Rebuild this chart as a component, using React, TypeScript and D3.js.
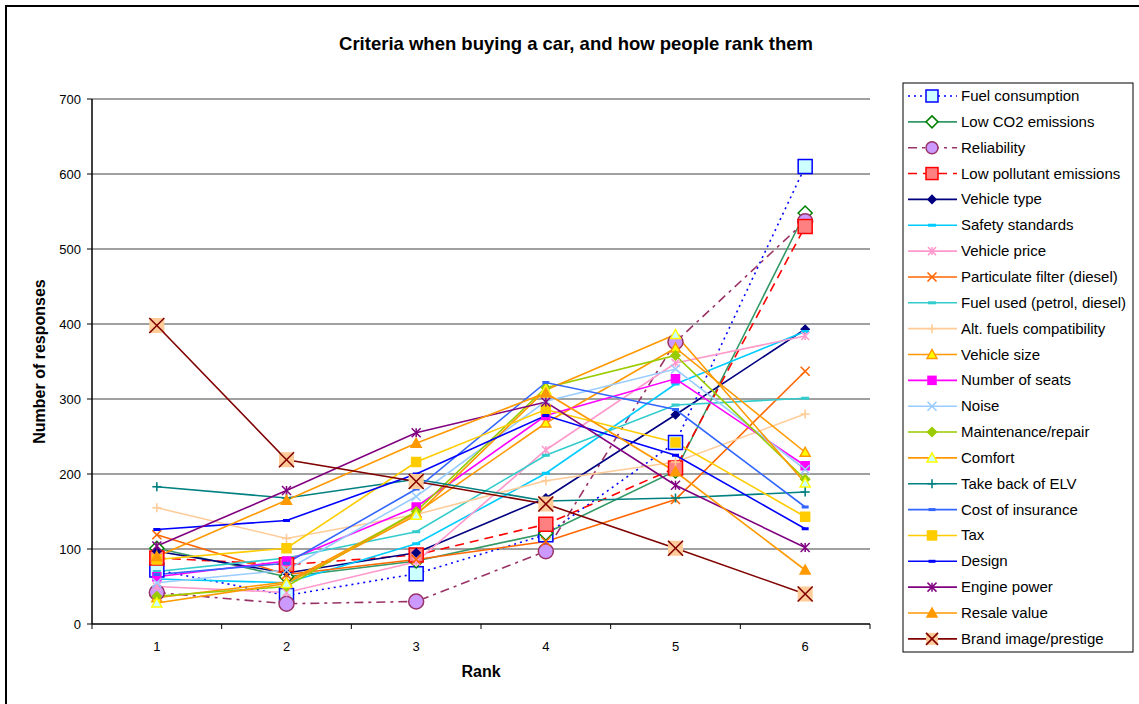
import React from "react";
import * as d3 from "d3";

const ranks = ["1", "2", "3", "4", "5", "6"];
const yTicks = [0, 100, 200, 300, 400, 500, 600, 700];

const fuelConsumption = [72, 38, 67, 119, 242, 610];
const lowCO2 = [101, 63, 84, 121, 204, 548];
const reliability = [42, 27, 30, 97, 376, 537];
const lowPollutant = [88, 79, 92, 133, 208, 530];
const vehicleType = [97, 68, 95, 168, 279, 393];
const safetyStandards = [60, 55, 107, 201, 320, 390];
const vehiclePrice = [50, 42, 83, 232, 348, 384];
const particulateFilter = [119, 66, 86, 110, 166, 337];
const fuelUsed = [70, 88, 123, 225, 292, 301];
const altFuels = [155, 114, 146, 191, 216, 280];
const vehicleSize = [35, 56, 148, 268, 368, 229];
const numberOfSeats = [63, 84, 156, 278, 327, 211];
const noise = [55, 72, 170, 297, 340, 206];
const maintenance = [37, 50, 150, 315, 358, 193];
const comfort = [28, 54, 145, 312, 386, 188];
const takeBackELV = [183, 168, 193, 164, 168, 176];
const costOfInsurance = [66, 81, 180, 322, 286, 156];
const tax = [86, 101, 216, 286, 242, 143];
const design = [126, 138, 200, 278, 225, 127];
const enginePower = [104, 178, 255, 296, 185, 102];
const resaleValue = [90, 165, 241, 308, 203, 72];
const brandImage = [398, 219, 190, 160, 101, 40];

type Series = {
  name: string;
  values: number[];
  color: string;
  dash?: string;
  marker: string;
  fill: string;
  mstroke: string;
  size: number;
};

const series: Series[] = [
  { name: "Fuel consumption", values: fuelConsumption, color: "#0000FF", dash: "2,4", marker: "square", fill: "#CCFFFF", mstroke: "#0000FF", size: 14 },
  { name: "Low CO2 emissions", values: lowCO2, color: "#339966", marker: "diamondOpen", fill: "#FFFFFF", mstroke: "#008000", size: 14 },
  { name: "Reliability", values: reliability, color: "#993366", dash: "9,5,3,5", marker: "circle", fill: "#CC99FF", mstroke: "#993366", size: 15 },
  { name: "Low pollutant emissions", values: lowPollutant, color: "#FF0000", dash: "9,6", marker: "square", fill: "#FF8080", mstroke: "#FF0000", size: 14 },
  { name: "Vehicle type", values: vehicleType, color: "#000080", marker: "diamond", fill: "#000080", mstroke: "#000080", size: 8 },
  { name: "Safety standards", values: safetyStandards, color: "#00CCFF", marker: "dash", fill: "#00CCFF", mstroke: "#00CCFF", size: 8 },
  { name: "Vehicle price", values: vehiclePrice, color: "#FF99CC", marker: "star", fill: "none", mstroke: "#FF99CC", size: 8 },
  { name: "Particulate filter (diesel)", values: particulateFilter, color: "#FF6600", marker: "x", fill: "none", mstroke: "#FF6600", size: 9 },
  { name: "Fuel used (petrol, diesel)", values: fuelUsed, color: "#33CCCC", marker: "dash", fill: "#33CCCC", mstroke: "#33CCCC", size: 8 },
  { name: "Alt. fuels compatibility", values: altFuels, color: "#FFCC99", marker: "plus", fill: "none", mstroke: "#FFCC99", size: 9 },
  { name: "Vehicle size", values: vehicleSize, color: "#FF9900", marker: "triangle", fill: "#FFFF00", mstroke: "#FF9900", size: 10 },
  { name: "Number of seats", values: numberOfSeats, color: "#FF00FF", marker: "square", fill: "#FF00FF", mstroke: "#FF00FF", size: 8 },
  { name: "Noise", values: noise, color: "#99CCFF", marker: "x", fill: "none", mstroke: "#99CCFF", size: 9 },
  { name: "Maintenance/repair", values: maintenance, color: "#99CC00", marker: "diamond", fill: "#99CC00", mstroke: "#99CC00", size: 9 },
  { name: "Comfort", values: comfort, color: "#FF9900", marker: "triangle", fill: "#CCFFFF", mstroke: "#FFFF00", size: 10 },
  { name: "Take back of ELV", values: takeBackELV, color: "#008080", marker: "plus", fill: "none", mstroke: "#008080", size: 9 },
  { name: "Cost of insurance", values: costOfInsurance, color: "#3366FF", marker: "dash", fill: "#3366FF", mstroke: "#3366FF", size: 7 },
  { name: "Tax", values: tax, color: "#FFCC00", marker: "square", fill: "#FFCC00", mstroke: "#FFCC00", size: 9 },
  { name: "Design", values: design, color: "#0000FF", marker: "dash", fill: "#0000FF", mstroke: "#0000FF", size: 7 },
  { name: "Engine power", values: enginePower, color: "#800080", marker: "star", fill: "none", mstroke: "#800080", size: 9 },
  { name: "Resale value", values: resaleValue, color: "#FF9900", marker: "triangle", fill: "#FF9900", mstroke: "#FF9900", size: 10 },
  { name: "Brand image/prestige", values: brandImage, color: "#800000", marker: "xsquare", fill: "#FFCC99", mstroke: "#800000", size: 15 },
];

function Marker({ s, cx, cy }: { s: Series; cx: number; cy: number }) {
  const h = s.size / 2;
  switch (s.marker) {
    case "square":
      return <rect x={cx - h} y={cy - h} width={s.size} height={s.size} fill={s.fill} stroke={s.mstroke} strokeWidth={1.5} />;
    case "diamond":
    case "diamondOpen":
      return (
        <polygon
          points={`${cx},${cy - h} ${cx + h},${cy} ${cx},${cy + h} ${cx - h},${cy}`}
          fill={s.fill}
          stroke={s.mstroke}
          strokeWidth={1.5}
        />
      );
    case "circle":
      return <circle cx={cx} cy={cy} r={h} fill={s.fill} stroke={s.mstroke} strokeWidth={1.5} />;
    case "triangle":
      return (
        <polygon
          points={`${cx},${cy - h} ${cx + h},${cy + h * 0.8} ${cx - h},${cy + h * 0.8}`}
          fill={s.fill}
          stroke={s.mstroke}
          strokeWidth={1.5}
        />
      );
    case "dash":
      return <rect x={cx - h} y={cy - 1.5} width={s.size} height={3} fill={s.fill} />;
    case "x":
      return (
        <g stroke={s.mstroke} strokeWidth={1.6}>
          <line x1={cx - h} y1={cy - h} x2={cx + h} y2={cy + h} />
          <line x1={cx - h} y1={cy + h} x2={cx + h} y2={cy - h} />
        </g>
      );
    case "plus":
      return (
        <g stroke={s.mstroke} strokeWidth={1.6}>
          <line x1={cx - h} y1={cy} x2={cx + h} y2={cy} />
          <line x1={cx} y1={cy - h} x2={cx} y2={cy + h} />
        </g>
      );
    case "star":
      return (
        <g stroke={s.mstroke} strokeWidth={1.5}>
          <line x1={cx - h} y1={cy - h} x2={cx + h} y2={cy + h} />
          <line x1={cx - h} y1={cy + h} x2={cx + h} y2={cy - h} />
          <line x1={cx} y1={cy - h} x2={cx} y2={cy + h} />
        </g>
      );
    case "xsquare":
      return (
        <g>
          <rect x={cx - h} y={cy - h} width={s.size} height={s.size} fill={s.fill} stroke="none" />
          <g stroke={s.mstroke} strokeWidth={1.6}>
            <line x1={cx - h} y1={cy - h} x2={cx + h} y2={cy + h} />
            <line x1={cx - h} y1={cy + h} x2={cx + h} y2={cy - h} />
          </g>
        </g>
      );
  }
  return null;
}

export default function App() {
  const W = 1139, H = 704;
  const left = 92, right = 870, top = 99, bottom = 624;
  const x = d3.scaleBand<string>().domain(ranks).range([left, right]);
  const cxOf = (r: string) => (x(r) as number) + x.bandwidth() / 2;
  const y = d3.scaleLinear().domain([0, 700]).range([bottom, top]);
  const line = d3
    .line<number>()
    .x((_, i) => cxOf(ranks[i]))
    .y((v) => y(v));
  const font = "Arial, 'Liberation Sans', Helvetica, sans-serif";
  const legX = 903, legY = 83, legW = 230, legH = 569;
  const rowH = 25.85;

  return (
    <svg width={W} height={H} style={{ position: "absolute", left: 0, top: 0, background: "#fff" }} fontFamily={font}>
      <rect x={6} y={6} width={W + 20} height={H + 20} fill="#fff" stroke="#000" strokeWidth={2} />
      <text x={576} y={49.5} textAnchor="middle" fontSize={18.5} fontWeight="bold">
        Criteria when buying a car, and how people rank them
      </text>
      {/* gridlines */}
      {yTicks.map((t) =>
        t === 0 ? null : (
          <line key={t} x1={left} x2={right} y1={y(t)} y2={y(t)} stroke="#808080" strokeWidth={1.5} />
        )
      )}
      {/* axes */}
      <line x1={left} x2={left} y1={top} y2={bottom} stroke="#000" strokeWidth={1.5} />
      <line x1={left} x2={right} y1={bottom} y2={bottom} stroke="#000" strokeWidth={1.5} />
      {yTicks.map((t) => (
        <g key={t}>
          <line x1={left - 5} x2={left} y1={y(t)} y2={y(t)} stroke="#000" strokeWidth={1} />
          <text x={left - 11} y={y(t) + 4.5} textAnchor="end" fontSize={13}>
            {t}
          </text>
        </g>
      ))}
      {ranks.map((r, i) => (
        <g key={r}>
          <line x1={x(r) as number} x2={x(r) as number} y1={bottom} y2={bottom + 5} stroke="#000" strokeWidth={1} />
          {i === ranks.length - 1 && (
            <line x1={right} x2={right} y1={bottom} y2={bottom + 5} stroke="#000" strokeWidth={1} />
          )}
          <text x={cxOf(r)} y={bottom + 27} textAnchor="middle" fontSize={13}>
            {r}
          </text>
        </g>
      ))}
      <text x={481} y={677} textAnchor="middle" fontSize={16} fontWeight="bold">
        Rank
      </text>
      <text
        transform={`translate(45, ${(top + bottom) / 2}) rotate(-90)`}
        textAnchor="middle"
        fontSize={16}
        fontWeight="bold"
      >
        Number of responses
      </text>
      {/* series */}
      {series.map((s) => (
        <g key={s.name}>
          <path d={line(s.values) || ""} fill="none" stroke={s.color} strokeWidth={1.6} strokeDasharray={s.dash} />
        </g>
      ))}
      {series.map((s) => (
        <g key={s.name + "m"}>
          {s.values.map((v, i) => (
            <Marker key={i} s={s} cx={cxOf(ranks[i])} cy={y(v)} />
          ))}
        </g>
      ))}
      {/* legend */}
      <rect x={legX} y={legY} width={legW} height={legH} fill="#fff" stroke="#000" strokeWidth={1} />
      {series.map((s, i) => {
        const cy = 96 + i * rowH;
        return (
          <g key={s.name + "l"}>
            <line x1={908} x2={957} y1={cy} y2={cy} stroke={s.color} strokeWidth={1.6} strokeDasharray={s.dash} />
            <Marker s={{ ...s, size: Math.min(s.size, 12) }} cx={932} cy={cy} />
            <text x={961} y={cy + 5} fontSize={15}>
              {s.name}
            </text>
          </g>
        );
      })}
    </svg>
  );
}
